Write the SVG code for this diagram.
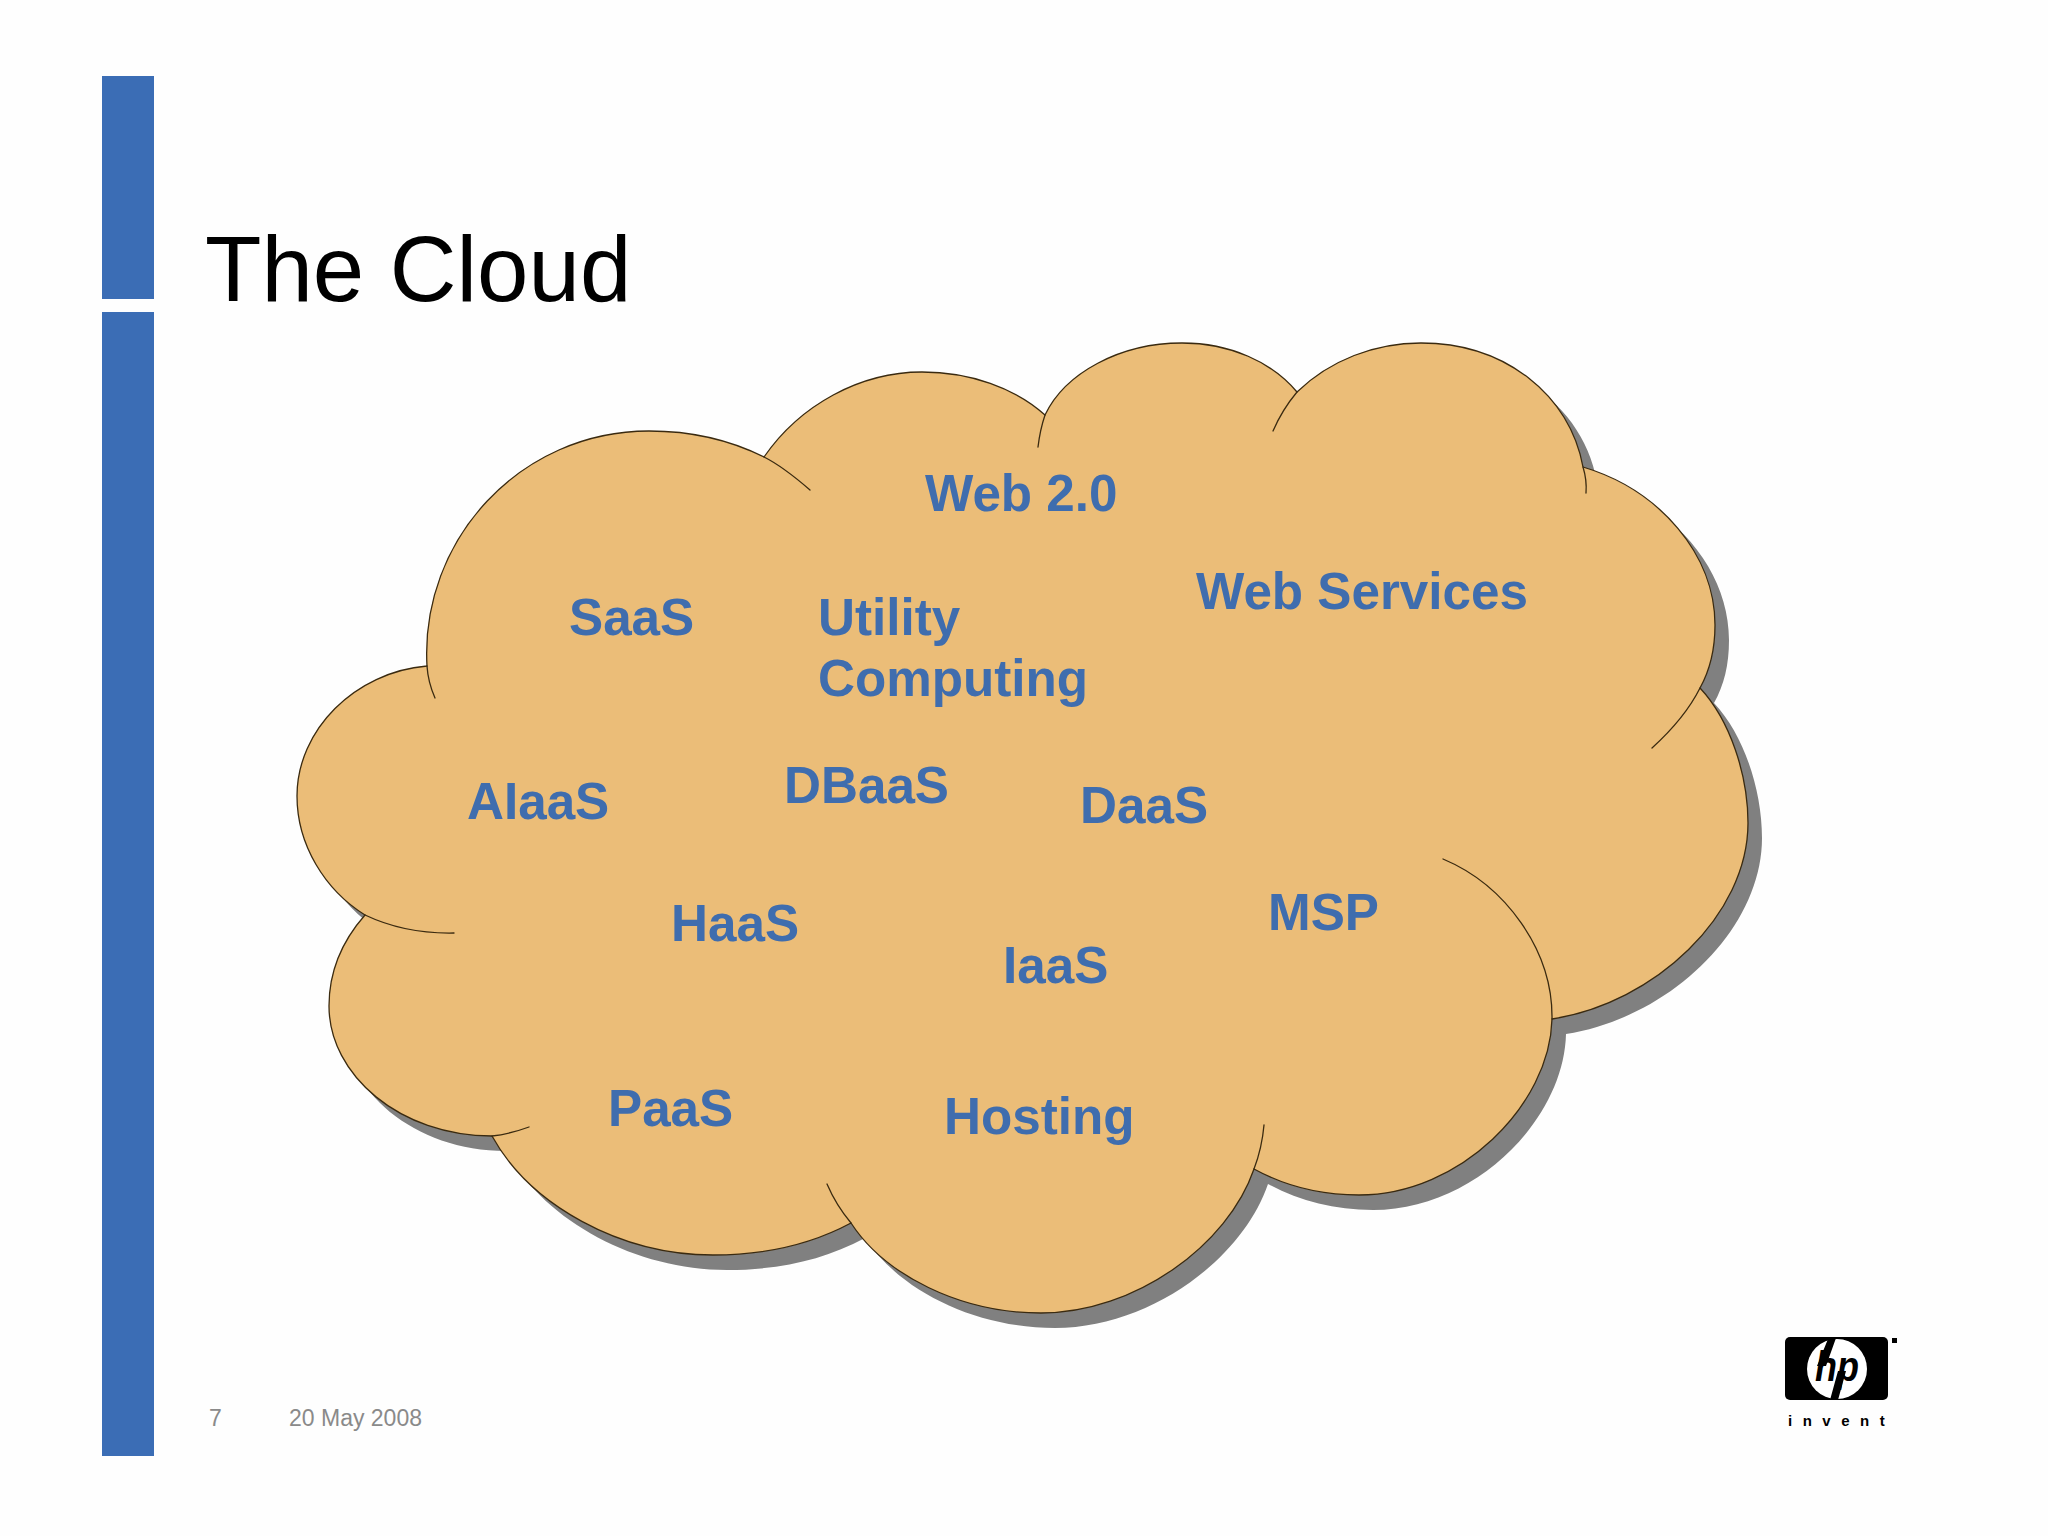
<svg xmlns="http://www.w3.org/2000/svg" width="2048" height="1536" viewBox="0 0 2048 1536">
<style>
.lbl{font-family:"Liberation Sans",Arial,sans-serif;font-weight:700;font-size:51.2px;fill:#3F6DAE}
.foot{font-family:"Liberation Sans",Arial,sans-serif;font-size:23px;fill:#8a8a8a}
.tail{fill:none;stroke:#3a2a10;stroke-width:1.3;stroke-linecap:round}
</style>
<defs>
<path id="outline" d="M427 666C420 540 520 431 649 431C690 431 730 440 764 457C800 405 860 372 922 372C970 372 1015 388 1045 415C1065 373 1120 343 1182 343C1230 343 1272 362 1297 392C1330 360 1375 343 1421 343C1505 343 1570 395 1583 467C1660 490 1715 555 1715 625C1715 650 1710 670 1700 688C1730 720 1748 775 1748 823C1748 915 1655 1003 1552 1019C1550 1105 1460 1195 1359 1195C1320 1195 1285 1186 1254 1169C1228 1245 1135 1313 1041 1313C960 1313 885 1275 851 1223C810 1245 765 1255 713 1255C620 1255 530 1205 492 1136C400 1136 329 1075 329 1006C329 970 343 940 365 915C325 890 297 845 297 796C297 730 355 672 427 666Z"/>
</defs>
<rect width="2048" height="1536" fill="#fefefe"/>
<g id="sidebar">
<rect x="102" y="76" width="52" height="223" fill="#3B6DB5"/>
<rect x="102" y="312" width="52" height="1144" fill="#3B6DB5"/>
</g>
<text id="title" x="205" y="301" font-family="'Liberation Sans',Arial,sans-serif" font-size="92.4" fill="#000">The Cloud</text>
<g id="cloud">
<use href="#outline" x="14" y="15" fill="#808080"/>
<use href="#outline" fill="#EBBD78" stroke="#3a2a10" stroke-width="1.3"/>
<path class="tail" d="M764 457C780 465 795 477 810 490"/>
<path class="tail" d="M1045 415Q1040 430 1038 447"/>
<path class="tail" d="M1297 392Q1282 410 1273 431"/>
<path class="tail" d="M1583 467Q1587 480 1586 493"/>
<path class="tail" d="M1700 688Q1685 718 1652 748"/>
<path class="tail" d="M1443 859C1505 885 1553 950 1552 1019"/>
<path class="tail" d="M1254 1169Q1262 1148 1264 1125"/>
<path class="tail" d="M851 1223Q836 1205 827 1184"/>
<path class="tail" d="M492 1136Q510 1134 529 1127"/>
<path class="tail" d="M365 915Q405 934 454 933"/>
<path class="tail" d="M427 666Q428 682 435 698"/>
</g>
<g id="labels">
<text class="lbl" x="925" y="511">Web 2.0</text>
<text class="lbl" x="569" y="635">SaaS</text>
<text class="lbl" x="818" y="635">Utility</text>
<text class="lbl" x="818" y="696">Computing</text>
<text class="lbl" x="1196" y="609">Web Services</text>
<text class="lbl" x="467" y="819">AIaaS</text>
<text class="lbl" x="784" y="803">DBaaS</text>
<text class="lbl" x="1080" y="823">DaaS</text>
<text class="lbl" x="671" y="941">HaaS</text>
<text class="lbl" x="1003" y="983">IaaS</text>
<text class="lbl" x="1268" y="930">MSP</text>
<text class="lbl" x="608" y="1126">PaaS</text>
<text class="lbl" x="944" y="1134">Hosting</text>
</g>
<g id="footer">
<text class="foot" x="209" y="1426">7</text>
<text class="foot" x="289" y="1426">20 May 2008</text>
</g>
<g id="logo">
<rect x="1785" y="1337" width="103" height="63" rx="5" fill="#000"/>
<circle cx="1837" cy="1369" r="30" fill="#fff"/>
<path d="M1828 1339L1836 1338L1826 1366L1817 1366ZM1846 1371L1838 1400L1830 1400L1838 1371Z" fill="#000"/>
<text x="1837" y="1381" text-anchor="middle" font-family="'Liberation Sans',Arial,sans-serif" font-weight="700" font-style="italic" font-size="42" fill="#000" textLength="44" lengthAdjust="spacingAndGlyphs">hp</text>
<rect x="1892" y="1338" width="5" height="5" fill="#000"/>
<text x="1788" y="1426" font-family="'Liberation Sans',Arial,sans-serif" font-weight="700" font-size="15" fill="#000" letter-spacing="10.5">invent</text>
</g>
</svg>
